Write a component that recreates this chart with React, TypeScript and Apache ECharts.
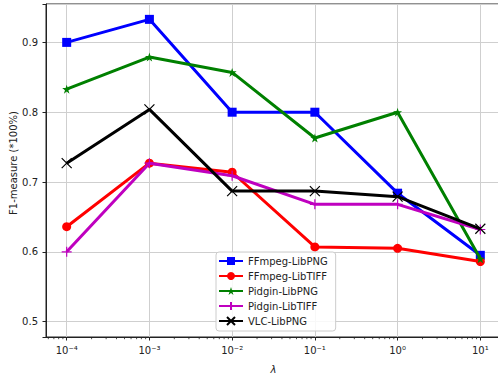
import React, { useEffect, useRef } from "react";
import * as echarts from "echarts";

const lambdas = [1e-4, 1e-3, 1e-2, 1e-1, 1, 10];
const xTickExponents = [-4, -3, -2, -1, 0, 1];
const xTickLabels = ["10⁻⁴", "10⁻³", "10⁻²", "10⁻¹", "10⁰", "10¹"];
const yTickLabels = ["0.5", "0.6", "0.7", "0.8", "0.9"];
const yAxisTitle = "F1-measure (*100%)";
const xAxisTitle = "λ";

const ffmpegLibpng = [0.9, 0.933, 0.8, 0.8, 0.684, 0.595];
const ffmpegLibtiff = [0.636, 0.727, 0.714, 0.607, 0.605, 0.586];
const pidginLibpng = [0.833, 0.879, 0.857, 0.763, 0.8, 0.59];
const pidginLibtiff = [0.6, 0.727, 0.709, 0.668, 0.668, 0.632];
const vlcLibpng = [0.727, 0.804, 0.687, 0.687, 0.679, 0.633];

const seriesNames = ["FFmpeg-LibPNG", "FFmpeg-LibTIFF", "Pidgin-LibPNG", "Pidgin-LibTIFF", "VLC-LibPNG"];
const seriesColors = ["#0000ff", "#ff0000", "#008000", "#bf00bf", "#000000"];

const X_MIN = -4.25;
const X_MAX = 1.25;
const Y_MIN = 0.478;
const Y_MAX = 0.955;

const STAR =
  "path://M50,0 L61.8,36.2 L100,36.2 L69.1,58.6 L80.9,95.1 L50,72.7 L19.1,95.1 L30.9,58.6 L0,36.2 L38.2,36.2 Z";
const PLUS = "path://M0,50 L100,50 M50,0 L50,100";
const CROSS = "path://M0,0 L100,100 M0,100 L100,0";

function minorTicks(): number[] {
  const out: number[] = [];
  for (let k = -5; k <= 1; k++) {
    for (let m = 2; m <= 9; m++) {
      const v = Math.log10(m) + k;
      if (v > X_MIN && v < X_MAX) out.push(v);
    }
  }
  return out;
}

export default function App() {
  const ref = useRef<HTMLDivElement>(null);
  useEffect(() => {
    if (!ref.current) return;
    const chart = echarts.init(ref.current, undefined, { renderer: "svg" });
    const xs = lambdas.map((l) => Math.log10(l));
    const allData = [ffmpegLibpng, ffmpegLibtiff, pidginLibpng, pidginLibtiff, vlcLibpng];
    const symbols = ["rect", "circle", STAR, PLUS, CROSS];
    const sizes = [9, 9, 9, 10, 10];
    const font = "DejaVu Sans";

    const lineSeries = allData.map((vals, i) => {
      const strokeOnly = i >= 3;
      return {
        name: seriesNames[i],
        type: "line",
        data: vals.map((v, j) => [xs[j], v]),
        symbol: symbols[i],
        symbolSize: sizes[i],
        showAllSymbol: true,
        lineStyle: { color: seriesColors[i], width: 3 },
        itemStyle: strokeOnly
          ? { color: seriesColors[i], borderColor: seriesColors[i], borderWidth: 1.2, opacity: 1 }
          : { color: seriesColors[i], borderWidth: 0, opacity: 1 },
        emphasis: { disabled: true },
        z: 2 + i,
      };
    });

    const minorSeries = {
      name: "minor",
      type: "custom",
      silent: true,
      clip: false,
      data: minorTicks().map((v) => [v, Y_MIN]),
      renderItem: (_params: any, api: any) => {
        const p = api.coord([api.value(0), Y_MIN]);
        return {
          type: "line",
          shape: { x1: p[0], y1: p[1], x2: p[0], y2: p[1] + 2.2 },
          style: { stroke: "#222", lineWidth: 0.8 },
        };
      },
      z: 10,
    };

    chart.setOption({
      animation: false,
      backgroundColor: "#ffffff",
      grid: {
        left: 46,
        top: 4,
        right: -3,
        bottom: 38,
        show: true,
        borderColor: "#222",
        borderWidth: 1,
        containLabel: false,
        outerBoundsMode: "none",
      },
      graphic: [
        {
          type: "text",
          x: 13,
          y: 163,
          rotation: Math.PI / 2,
          style: {
            text: yAxisTitle,
            fontFamily: font,
            fontSize: 10,
            fill: "#222",
            align: "center",
            verticalAlign: "middle",
          },
        },
      ],
      legend: {
        data: seriesNames,
        orient: "vertical",
        left: 216,
        top: 252,
        padding: [4, 8, 5, 2],
        itemWidth: 24,
        itemHeight: 10,
        itemGap: 5,
        backgroundColor: "rgba(255,255,255,0.85)",
        borderColor: "#cccccc",
        borderWidth: 1,
        borderRadius: 3,
        textStyle: { fontFamily: font, fontSize: 10, color: "#222", lineHeight: 10 },
        selectedMode: false,
      },
      xAxis: {
        type: "value",
        min: X_MIN,
        max: X_MAX,
        name: xAxisTitle,
        nameLocation: "middle",
        nameGap: 27,
        nameMoveOverlap: false,
        nameTextStyle: { fontFamily: font, fontSize: 10, fontStyle: "italic", color: "#222" },
        axisLine: { show: true, onZero: false, lineStyle: { color: "#222", width: 1 } },
        axisTick: {
          show: true,
          length: 3.5,
          lineStyle: { color: "#222" },
          customValues: xTickExponents,
        },
        axisLabel: {
          fontFamily: font,
          fontSize: 10,
          color: "#222",
          margin: 8,
          customValues: xTickExponents,
          formatter: (v: number) => {
            const idx = xTickExponents.findIndex((e) => Math.abs(e - v) < 1e-6);
            return idx >= 0 ? xTickLabels[idx] : "";
          },
        },
        splitLine: { show: true, lineStyle: { color: "#cfcfcf", width: 1 } },
      },
      yAxis: {
        type: "value",
        min: Y_MIN,
        max: Y_MAX,
        axisLine: { show: true, onZero: false, lineStyle: { color: "#222", width: 1 } },
        axisTick: { show: true, length: 3.5, lineStyle: { color: "#222" } },
        axisLabel: {
          fontFamily: font,
          fontSize: 10,
          color: "#222",
          margin: 8,
          formatter: (v: number) => {
            const s = v.toFixed(1);
            return Math.abs(v - parseFloat(s)) < 1e-6 && yTickLabels.includes(s) ? s : "";
          },
        },
        splitLine: { show: true, lineStyle: { color: "#cfcfcf", width: 1 } },
      },
      series: [...lineSeries, minorSeries],
    });
    return () => chart.dispose();
  }, []);
  return (
    <div
      ref={ref}
      style={{ position: "absolute", left: 0, top: 0, width: 498, height: 375, overflow: "hidden" }}
    />
  );
}
